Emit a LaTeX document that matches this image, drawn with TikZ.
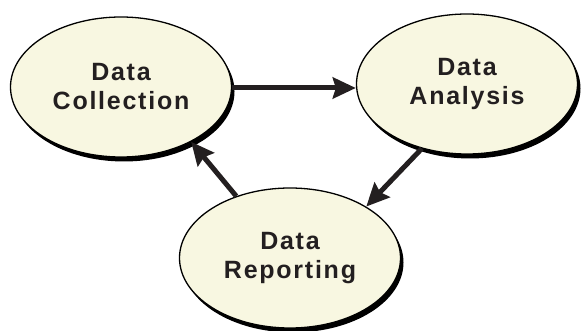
\documentclass[tikz,border=0pt]{standalone}
\usepackage{fontspec}
\newfontfamily\stagefont[LetterSpace=7]{Liberation Sans}
\usetikzlibrary{shapes.geometric,shadows,arrows.meta}
\definecolor{stagefill}{RGB}{248,247,225}
\definecolor{stagetext}{RGB}{35,31,32}

\begin{document}
\begin{tikzpicture}[x=1pt,y=-1pt,
    stage/.style={ellipse, draw=black, line width=1.3pt, fill=stagefill,
      minimum width=221pt, minimum height=140pt, inner sep=0pt,
      drop shadow={shadow xshift=3pt, shadow yshift=-4.5pt, fill=black, opacity=1},
      text=stagetext, align=center,
      font=\stagefont\bfseries\fontsize{25}{29}\selectfont},
    flow/.style={line width=5pt, color=stagetext,
      -{Stealth[length=23pt, width=21pt, inset=3pt]}}]
			%%%%% START %%%%%
			\useasboundingbox (0, 0) rectangle (581, 331);
			
			\node[stage] (coll) at (121, 87) {Data\\Collection};
			\node[stage] (ana) at (467, 84) {Data\\Analysis};
			\node[stage] (rep) at (290, 258) {Data\\Reporting};
			
			\draw[flow] (coll.east |- 0, 88) -- (ana.west |- 0, 88);
			\draw[flow] (ana.235) -- (rep.34);
			\draw[flow] (rep.131) -- (coll.322);
			%%%%% END %%%%%
\end{tikzpicture}
\end{document}
